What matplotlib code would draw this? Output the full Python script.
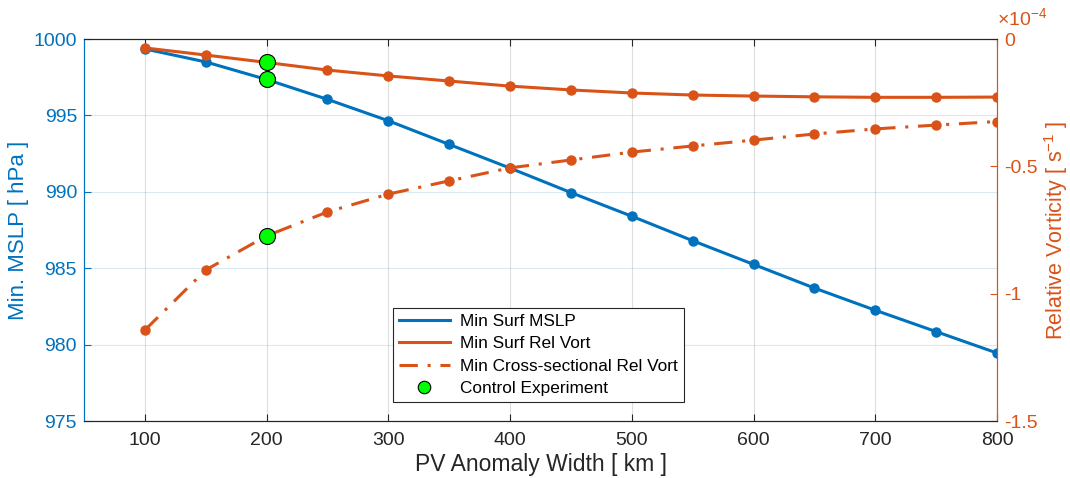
import numpy as np
import matplotlib.pyplot as plt
from matplotlib.lines import Line2D
from matplotlib.ticker import FuncFormatter

plt.rcParams['font.family'] = ['Liberation Sans', 'DejaVu Sans']
plt.rcParams['mathtext.fontset'] = 'custom'
plt.rcParams['mathtext.rm'] = 'Liberation Sans'
plt.rcParams['mathtext.it'] = 'Liberation Sans:italic'

# PV anomaly width [km]
width_km = [100, 150, 200, 250, 300, 350, 400, 450, 500, 550, 600, 650, 700, 750, 800]

# minimum surface MSLP [hPa]
min_mslp = [999.35, 998.5, 997.35, 996.05, 994.65, 993.1, 991.55, 989.95, 988.4,
            986.8, 985.25, 983.7, 982.25, 980.85, 979.45]

# minimum surface relative vorticity [s^-1]
surf_vort = [-0.035e-4, -0.063e-4, -0.092e-4, -0.122e-4, -0.145e-4, -0.165e-4, -0.185e-4,
             -0.200e-4, -0.212e-4, -0.220e-4, -0.224e-4, -0.227e-4, -0.229e-4, -0.229e-4,
             -0.228e-4]

# minimum cross-sectional relative vorticity [s^-1]
cross_vort = [-1.143e-4, -0.907e-4, -0.773e-4, -0.679e-4, -0.609e-4, -0.557e-4, -0.506e-4,
              -0.475e-4, -0.444e-4, -0.420e-4, -0.397e-4, -0.373e-4, -0.353e-4, -0.338e-4,
              -0.324e-4]

control_width = 200

blue = '#0072BD'
orange = '#D95319'
dark = '#262626'
dashdot = (0, (6.0, 3.2, 1.0, 3.2))

fig = plt.figure(figsize=(10.7, 4.78), dpi=100)
ax1 = fig.add_axes([0.0785, 0.1192, 0.8533, 0.7992])
ax2 = ax1.twinx()

lw = 2.2
ax1.plot(width_km, min_mslp, '-', color=blue, lw=lw, marker='o', ms=6.5)
ax2.plot(width_km, surf_vort, '-', color=orange, lw=lw, marker='o', ms=6.5)
ax2.plot(width_km, cross_vort, color=orange, lw=lw, marker='o', ms=6.5, linestyle=dashdot)

# control run markers (drawn on the top axes so they sit above all lines)
ic = width_km.index(control_width)
green_kw = dict(marker='o', ms=11.5, mfc='#00FF00', mec='black', mew=0.8, ls='none', zorder=5)
ax2.plot([control_width], [min_mslp[ic]], transform=ax1.transData, **green_kw)
ax2.plot([control_width], [surf_vort[ic]], **green_kw)
ax2.plot([control_width], [cross_vort[ic]], **green_kw)

ax1.set_xlim(50, 800)
ax1.set_ylim(975, 1000)
ax2.set_ylim(-1.5e-4, 0)
ax1.set_xticks(np.arange(100, 801, 100))
ax1.set_yticks(np.arange(975, 1001, 5))
ax2.set_yticks([-1.5e-4, -1e-4, -0.5e-4, 0])
ax2.yaxis.set_major_formatter(FuncFormatter(lambda v, p: f'{v / 1e-4:g}'.replace('\u2212', '-')))

# grids: vertical in gray, horizontal tied to the left axis colour
ax1.grid(True, axis='x', color=dark, alpha=0.15, lw=0.8)
ax1.grid(True, axis='y', color=blue, alpha=0.15, lw=0.8)
ax1.set_axisbelow(True)

ax1.tick_params(axis='x', direction='in', top=True, length=5, colors=dark, labelsize=14, pad=8)
ax1.tick_params(axis='y', direction='in', length=5, colors=blue, labelsize=14, pad=5)
ax2.tick_params(axis='y', direction='in', length=5, colors=orange, labelsize=14, pad=5)
ax2.tick_params(axis='x', top=False, bottom=False)

for ax in (ax1, ax2):
    ax.spines['top'].set_color(dark)
    ax.spines['bottom'].set_color(dark)
    ax.spines['left'].set_color(blue)
    ax.spines['right'].set_color(orange)
    for s in ax.spines.values():
        s.set_linewidth(0.8)

ax1.set_xlabel('PV Anomaly Width [ km ]', fontsize=16.5, color=dark, labelpad=3)
ax1.set_ylabel('Min. MSLP [ hPa ]', fontsize=16, color=blue, labelpad=3)
ax2.set_ylabel('Relative Vorticity [ s$^{\\mathregular{-1}}$ ]', fontsize=15.5, color=orange,
               labelpad=3)
ax2.text(1.0, 1.025, '\u00d710$^{\\mathregular{-4}}$', transform=ax2.transAxes, color=orange,
         fontsize=14, ha='left', va='bottom')

handles = [
    Line2D([], [], color=blue, lw=lw),
    Line2D([], [], color=orange, lw=lw),
    Line2D([], [], color=orange, lw=lw, linestyle=dashdot),
    Line2D([], [], marker='o', ms=9, mfc='#00FF00', mec='black', mew=0.8, ls='none'),
]
labels = ['Min Surf MSLP', 'Min Surf Rel Vort', 'Min Cross-sectional Rel Vort',
          'Control Experiment']
leg = ax2.legend(handles, labels, loc='lower left', bbox_to_anchor=(0.338, 0.05),
                 borderaxespad=0, fontsize=12.4, frameon=True, fancybox=False,
                 framealpha=1, edgecolor=dark, handlelength=3.0, handletextpad=0.55,
                 borderpad=0.35, labelspacing=0.42)
leg.get_frame().set_linewidth(0.8)

fig.savefig('out.png', dpi=100)
